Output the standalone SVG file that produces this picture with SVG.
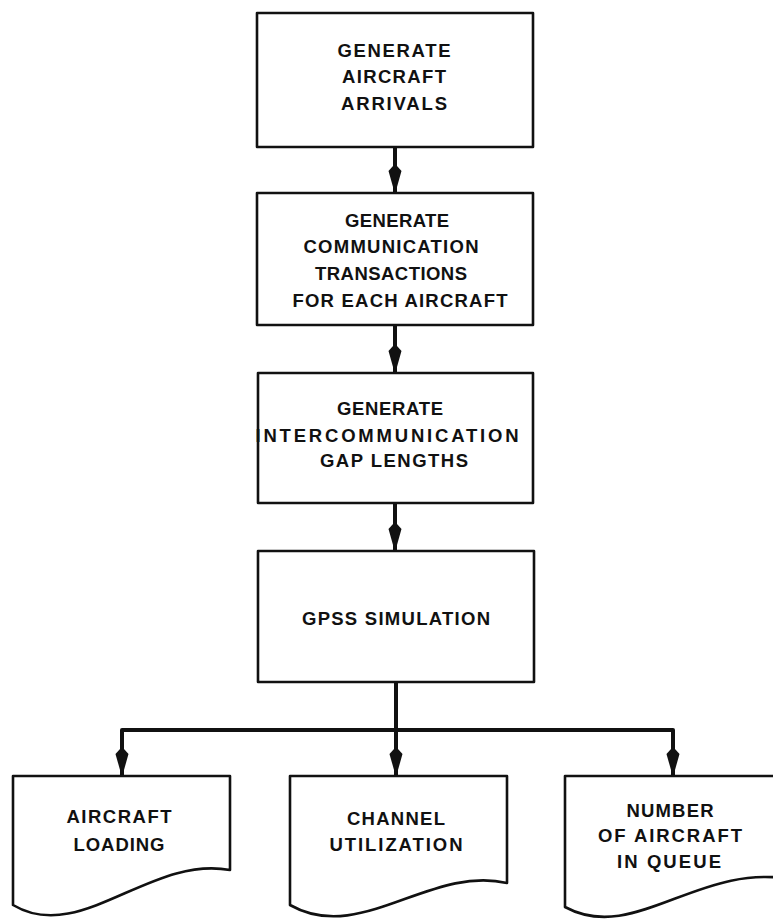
<svg xmlns="http://www.w3.org/2000/svg" width="773" height="919" viewBox="0 0 773 919">
<style>
.box{fill:#fff;stroke:#111;stroke-width:2.6;stroke-linejoin:round}
.t{font-family:"Liberation Sans",Arial,sans-serif;font-weight:bold;font-size:18.5px;fill:#111;text-anchor:middle}
.c{fill:none;stroke:#111;stroke-width:4;stroke-linejoin:round}
</style>
<defs>
<marker id="ah" markerUnits="userSpaceOnUse" viewBox="0 -7 28 14" markerWidth="28" markerHeight="14" refX="27" refY="0" orient="auto">
<path d="M0,-2 L5,-6.5 L28,0 L5,6.5 L0,2 Z" fill="#111"/>
</marker>
</defs>
<rect width="773" height="919" fill="#fff"/>
<g id="connectors">
<path class="c" d="M395,147 V193" marker-end="url(#ah)"/>
<path class="c" d="M395,325 V373" marker-end="url(#ah)"/>
<path class="c" d="M395,503 V551" marker-end="url(#ah)"/>
<path class="c" d="M396,682 V776" marker-end="url(#ah)"/>
<path class="c" d="M396,730 H122 V776" marker-end="url(#ah)"/>
<path class="c" d="M396,730 H673 V776" marker-end="url(#ah)"/>
</g>
<g id="n1">
<rect class="box" x="257" y="13" width="276" height="134"/>
<text class="t" x="394" y="57" textLength="113" lengthAdjust="spacing">GENERATE</text>
<text class="t" x="394" y="83" textLength="104" lengthAdjust="spacing">AIRCRAFT</text>
<text class="t" x="394" y="110" textLength="106" lengthAdjust="spacing">ARRIVALS</text>
</g>
<g id="n2">
<rect class="box" x="257" y="193" width="276" height="132"/>
<text class="t" x="397" y="227" textLength="104" lengthAdjust="spacing">GENERATE</text>
<text class="t" x="391" y="253" textLength="175" lengthAdjust="spacing">COMMUNICATION</text>
<text class="t" x="391" y="280" textLength="152" lengthAdjust="spacing">TRANSACTIONS</text>
<text class="t" x="400" y="307" textLength="215" lengthAdjust="spacing">FOR EACH AIRCRAFT</text>
</g>
<g id="n3">
<rect class="box" x="258" y="373" width="275" height="130"/>
<text class="t" x="390" y="415" textLength="106" lengthAdjust="spacing">GENERATE</text>
<text class="t" x="387" y="442" textLength="263" lengthAdjust="spacing">INTERCOMMUNICATION</text>
<text class="t" x="394" y="467" textLength="148" lengthAdjust="spacing">GAP LENGTHS</text>
</g>
<g id="n4">
<rect class="box" x="258" y="551" width="276" height="131"/>
<text class="t" x="396" y="625" textLength="188" lengthAdjust="spacing">GPSS SIMULATION</text>
</g>
<g id="n5">
<path class="box" d="M13,776 H230 V870 C150,855 80,945 13,905 Z"/>
<text class="t" x="119" y="823" textLength="105" lengthAdjust="spacing">AIRCRAFT</text>
<text class="t" x="119" y="851" textLength="91" lengthAdjust="spacing">LOADING</text>
</g>
<g id="n6">
<path class="box" d="M290,776 H507 V883 C430,865 360,945 290,905 Z"/>
<text class="t" x="396" y="825" textLength="98" lengthAdjust="spacing">CHANNEL</text>
<text class="t" x="396" y="851" textLength="133" lengthAdjust="spacing">UTILIZATION</text>
</g>
<g id="n7">
<path class="box" d="M565,776 H795 V880 C700,860 635,945 565,907 Z"/>
<text class="t" x="670" y="817" textLength="87" lengthAdjust="spacing">NUMBER</text>
<text class="t" x="670" y="842" textLength="144" lengthAdjust="spacing">OF AIRCRAFT</text>
<text class="t" x="669" y="868" textLength="104" lengthAdjust="spacing">IN QUEUE</text>
</g>
</svg>
